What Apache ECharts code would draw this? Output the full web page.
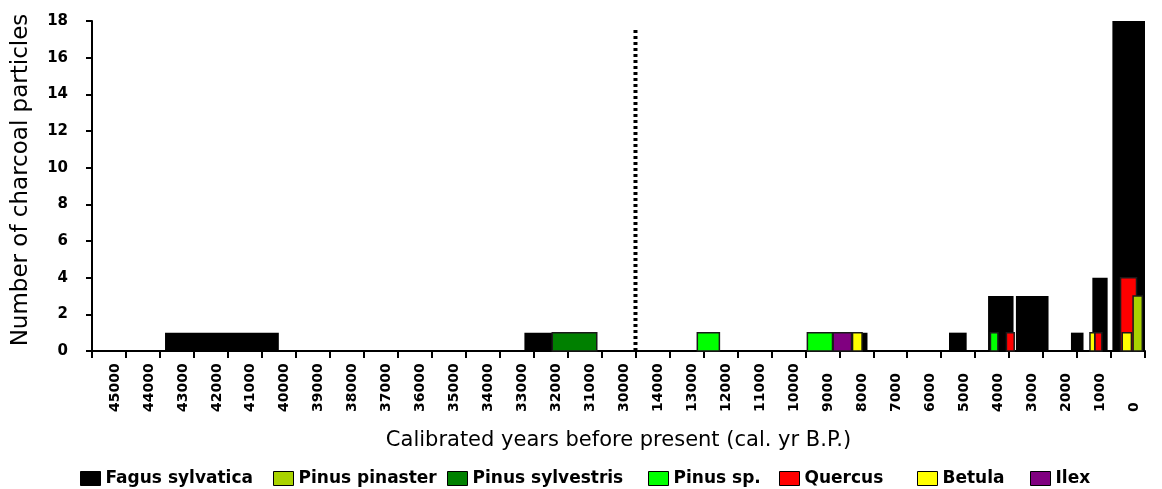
<!DOCTYPE html>
<html>
<head>
<meta charset="utf-8">
<script src="https://cdn.jsdelivr.net/npm/echarts@6/dist/echarts.min.js"></script>
<style>
html,body{margin:0;padding:0;background:#fff;}
#chart{width:1162px;height:489px;}
</style>
</head>
<body>
<div id="chart"></div>
<script>
// Category tick labels (broken time axis: 45000-30000, then 14000-0)
const categories = ['45000','44000','43000','42000','41000','40000','39000','38000','37000','36000','35000','34000','33000','32000','31000','30000',
  '14000','13000','12000','11000','10000','9000','8000','7000','6000','5000','4000','3000','2000','1000','0'];
const yTicks = [0, 2, 4, 6, 8, 10, 12, 14, 16, 18];

// Each bar: [start cal. yr BP, end cal. yr BP, number of charcoal particles]
const fagusSylvatica = [[43350,40000,1],[32770,30640,1],[8680,7670,1],[5270,4750,1],[4120,3370,3],[3300,2340,3],[1680,1310,1],[1050,600,4],[460,-500,18]];
const pinusPinaster = [[-150,-420,3]];
const pinusSylvestris = [[31950,30640,1]];
const pinusSp = [[12680,12030,1],[9440,8700,1],[4050,3830,1]];
const quercus = [[3580,3350,1],[980,770,1],[220,-250,4]];
const betula = [[8110,7830,1],[1120,980,1],[170,-100,1]];
const ilex = [[8680,8140,1]];

// Axis break marker (between 30000 and 14000), height in particles
const breakMarkerTop = 17.6;

const seriesNames = ['Fagus sylvatica','Pinus pinaster','Pinus sylvestris','Pinus sp.','Quercus','Betula','Ilex'];
const seriesData = [fagusSylvatica, pinusPinaster, pinusSylvestris, pinusSp, quercus, betula, ilex];
const seriesColors = ['#000000','#a9d300','#008000','#00ff00','#ff0000','#ffff00','#800080'];
const seriesZ = [2, 4, 4, 4, 3, 4, 4];
const legendLeft = [80, 273, 447, 648, 779, 917, 1030];

// map years onto the band positions of the broken category axis
function yearToAxis(y) {
  return y > 20000 ? (45500 - y) / 1000 : 16 + (14500 - y) / 1000;
}

function renderBar(params, api) {
  const p0 = api.coord([api.value(0), api.value(2)]);
  const p1 = api.coord([api.value(1), 0]);
  return {
    type: 'rect',
    shape: { x: p0[0], y: p0[1], width: p1[0] - p0[0], height: p1[1] - p0[1] },
    style: api.style()
  };
}

const FONT = 'DejaVu Sans';

const series = seriesNames.map((name, i) => ({
  name: name,
  type: 'custom',
  xAxisIndex: 1,
  yAxisIndex: 0,
  z: seriesZ[i],
  renderItem: renderBar,
  encode: { x: [0, 1], y: 2 },
  itemStyle: {
    color: seriesColors[i],
    borderColor: '#1a1a1a',
    borderWidth: i === 0 ? 0 : 1.5
  },
  data: seriesData[i].map(d => [yearToAxis(d[0]), yearToAxis(d[1]), d[2]])
}));

series.push({
  name: 'break',
  type: 'line',
  xAxisIndex: 1,
  yAxisIndex: 0,
  z: 6,
  silent: true,
  symbol: 'none',
  lineStyle: { color: '#000', width: 4, type: [3, 3] },
  data: [[16, 0], [16, breakMarkerTop]]
});

const legends = seriesNames.map((name, i) => ({
  data: [name],
  left: legendLeft[i],
  top: 470,
  padding: 0,
  itemWidth: 20,
  itemHeight: 14,
  icon: 'rect',
  selectedMode: false,
  itemStyle: { borderColor: '#000', borderWidth: 1 },
  textStyle: { fontFamily: FONT, fontWeight: 'bold', fontSize: 17, color: '#000' }
}));

const chart = echarts.init(document.getElementById('chart'), null, { renderer: 'canvas' });
chart.setOption({
  animation: false,
  backgroundColor: '#fff',
  grid: { left: 92, right: 17, top: 21, bottom: 138, containLabel: false },
  legend: legends,
  xAxis: [{
    type: 'category',
    data: categories,
    boundaryGap: true,
    position: 'bottom',
    name: 'Calibrated years before present (cal. yr B.P.)',
    nameLocation: 'middle',
    nameGap: 79,
    nameTextStyle: { fontFamily: FONT, fontSize: 21, color: '#000' },
    axisLine: { lineStyle: { color: '#000', width: 2 } },
    axisTick: { show: true, interval: 0, length: 7, lineStyle: { color: '#000', width: 2 } },
    axisLabel: {
      interval: 0, rotate: 90, margin: 61, align: 'left', verticalAlign: 'top',
      lineHeight: 12,
      fontFamily: FONT, fontWeight: 'bold', fontSize: 14, color: '#000'
    },
    splitLine: { show: false }
  }, {
    type: 'value',
    min: 0,
    max: 31,
    show: false
  }],
  yAxis: [{
    type: 'value',
    min: yTicks[0],
    max: yTicks[yTicks.length - 1],
    interval: 2,
    name: 'Number of charcoal particles',
    nameLocation: 'middle',
    nameGap: 59,
    nameRotate: 90,
    nameTextStyle: { fontFamily: FONT, fontSize: 23, color: '#000', padding: [0, 0, 0, 12] },
    axisLine: { show: true, lineStyle: { color: '#000', width: 2 } },
    axisTick: { show: true, length: 6, lineStyle: { color: '#000', width: 2 } },
    axisLabel: { margin: 24, fontFamily: FONT, fontWeight: 'bold', fontSize: 15, color: '#000' },
    splitLine: { show: false }
  }],
  series: series
});
</script>
</body>
</html>
